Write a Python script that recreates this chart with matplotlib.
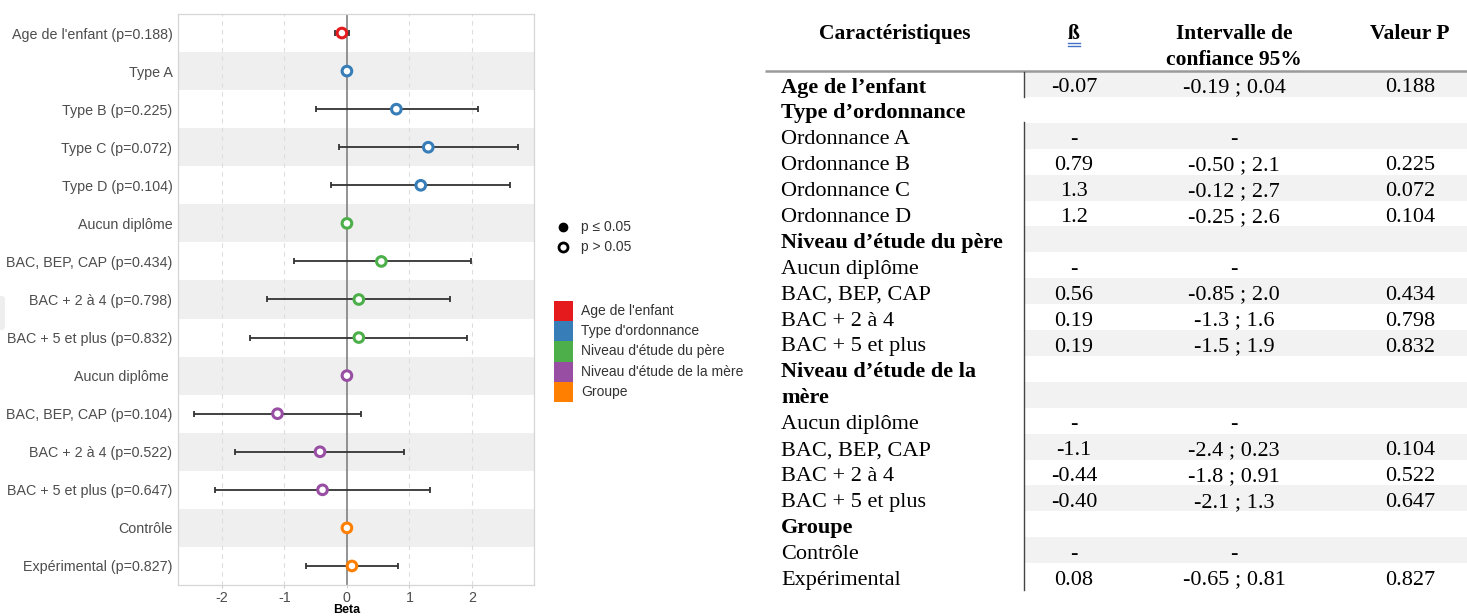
import matplotlib
matplotlib.use("Agg")
import matplotlib.pyplot as plt
import numpy as np
from matplotlib.patches import Rectangle, FancyBboxPatch

plt.rcParams['axes.unicode_minus'] = False

# ---------------- data: forest plot ----------------
row_labels = ["Age de l'enfant (p=0.188)", "Type A", "Type B (p=0.225)", "Type C (p=0.072)",
              "Type D (p=0.104)", "Aucun diplôme", "BAC, BEP, CAP (p=0.434)",
              "BAC + 2 à 4 (p=0.798)", "BAC + 5 et plus (p=0.832)", "Aucun diplôme ",
              "BAC, BEP, CAP (p=0.104)", "BAC + 2 à 4 (p=0.522)", "BAC + 5 et plus (p=0.647)",
              "Contrôle", "Expérimental (p=0.827)"]
estimate = [-0.08, 0.0, 0.79, 1.30, 1.18, 0.0, 0.55, 0.19, 0.19, 0.0, -1.11, -0.43, -0.39, 0.0, 0.08]
ci_low = [-0.19, np.nan, -0.50, -0.12, -0.25, np.nan, -0.85, -1.27, -1.55, np.nan, -2.45, -1.79, -2.11, np.nan, -0.65]
ci_high = [0.04, np.nan, 2.09, 2.73, 2.61, np.nan, 1.98, 1.64, 1.92, np.nan, 0.23, 0.91, 1.32, np.nan, 0.82]
group_idx = [0, 1, 1, 1, 1, 2, 2, 2, 2, 3, 3, 3, 3, 4, 4]
group_names = ["Age de l'enfant", "Type d'ordonnance", "Niveau d'étude du père",
               "Niveau d'étude de la mère", "Groupe"]
group_colors = ["#E41A1C", "#377EB8", "#4DAF4A", "#984EA3", "#FF7F00"]
x_ticks = [-2, -1, 0, 1, 2]
shape_legend = ["p \u2264 0.05", "p > 0.05"]

# ---------------- data: table ----------------
tab_headers = ["Caractéristiques", "ß", "Intervalle de\nconfiance 95%", "Valeur P"]
tab_labels = ["Age de l\u2019enfant", "Type d\u2019ordonnance", "Ordonnance A", "Ordonnance B",
              "Ordonnance C", "Ordonnance D", "Niveau d\u2019étude du père", "Aucun diplôme",
              "BAC, BEP, CAP", "BAC + 2 à 4", "BAC + 5 et plus", "Niveau d\u2019étude de la",
              "mère", "Aucun diplôme", "BAC, BEP, CAP", "BAC + 2 à 4", "BAC + 5 et plus",
              "Groupe", "Contrôle", "Expérimental"]
tab_bold = [1, 1, 0, 0, 0, 0, 1, 0, 0, 0, 0, 1, 1, 0, 0, 0, 0, 1, 0, 0]
tab_beta = ["-0.07", "", "-", "0.79", "1.3", "1.2", "", "-", "0.56", "0.19", "0.19", "", "",
            "-", "-1.1", "-0.44", "-0.40", "", "-", "0.08"]
tab_ci = ["-0.19 ; 0.04", "", "-", "-0.50 ; 2.1", "-0.12 ; 2.7", "-0.25 ; 2.6", "", "-",
          "-0.85 ; 2.0", "-1.3 ; 1.6", "-1.5 ; 1.9", "", "", "-", "-2.4 ; 0.23",
          "-1.8 ; 0.91", "-2.1 ; 1.3", "", "-", "-0.65 ; 0.81"]
tab_p = ["0.188", "", "", "0.225", "0.072", "0.104", "", "", "0.434", "0.798", "0.832", "", "",
         "", "0.104", "0.522", "0.647", "", "", "0.827"]

W, H = 1467, 616
fig = plt.figure(figsize=(W / 100, H / 100), dpi=100)
fig.patch.set_facecolor("white")


def px_axes(l, t, r, b, **kw):
    return fig.add_axes([l / W, 1 - b / H, (r - l) / W, (b - t) / H], **kw)


# overlay for legend + table (pixel coordinates)
ov = px_axes(0, 0, W, H, zorder=0)
ov.set_xlim(0, W)
ov.set_ylim(H, 0)
ov.axis("off")

# ---------------- forest plot ----------------
ax = px_axes(178, 14, 534, 585, zorder=2)
sans = "Liberation Sans"
n = len(row_labels)
ypos = np.arange(n)
for i in range(n):
    if i % 2 == 1:
        ax.axhspan(i - 0.5, i + 0.5, color="#EFEFEF", lw=0, zorder=0)
for v in x_ticks:
    if v != 0:
        ax.axvline(v, color="#DDDDDD", lw=0.8, ls=(0, (4, 4)), zorder=1)
ax.axvline(0, color="#808080", lw=1.2, zorder=1)

est = np.array(estimate)
lo = np.array(ci_low)
hi = np.array(ci_high)
m = ~np.isnan(lo)
ax.errorbar(est[m], ypos[m], xerr=[est[m] - lo[m], hi[m] - est[m]], fmt="none",
            ecolor="#333333", elinewidth=1.3, capsize=2.5, capthick=1.3, zorder=2)
cols = [group_colors[g] for g in group_idx]
ax.scatter(est, ypos, s=48, facecolors="white", edgecolors=cols, linewidths=2.2, zorder=3)

ax.set_xlim(-2.70, 2.99)
ax.set_ylim(n - 0.5, -0.5)
ax.set_yticks(ypos)
ax.set_yticklabels(row_labels, fontsize=10.3, color="#4D4D4D", family=sans)
ax.set_xticks(x_ticks)
ax.set_xticklabels([str(t) for t in x_ticks], fontsize=10.3, color="#4D4D4D", family=sans)
ax.tick_params(axis="y", length=0, pad=4)
ax.tick_params(axis="x", length=2.5, width=0.8, color="#CCCCCC", pad=2)
for s in ax.spines.values():
    s.set_color("#D6D6D6")
    s.set_linewidth(0.9)
ov.text(347, 613, "Beta", fontsize=9, fontweight="bold", family=sans, ha="center",
        va="baseline")

# small gray artifact at left edge
ov.add_patch(FancyBboxPatch((-6, 296), 11, 34, boxstyle="round,pad=0,rounding_size=3",
                            fc="#EEEEEE", ec="none"))

# ---------------- legends ----------------
ov.plot([563], [227], "o", ms=6, color="black", mec="black")
ov.plot([563], [247], "o", ms=6.5, mfc="white", mec="black", mew=2.0)
ov.text(581, 227, shape_legend[0], fontsize=10, family=sans, color="#333333", va="center")
ov.text(581, 247, shape_legend[1], fontsize=10, family=sans, color="#333333", va="center")
for k, (nm, c) in enumerate(zip(group_names, group_colors)):
    y0 = 301 + k * 20.2
    ov.add_patch(Rectangle((554, y0), 19, 20.2, fc=c, ec="none"))
    ov.text(581, y0 + 10.1, nm, fontsize=10, family=sans, color="#333333", va="center")

# ---------------- table ----------------
serif = "Liberation Serif"
fs = 16
col_x = [781, 1074, 1234, 1410]
row_y0 = 84
row_dy = 25.9
base_off = 8.5
# header
hfs = 15.5
ov.text(895, 39, tab_headers[0], fontsize=hfs, family=serif, fontweight="bold",
        ha="center", va="baseline")
ov.text(col_x[1], 39, tab_headers[1], fontsize=hfs, family=serif, fontweight="bold",
        ha="center", va="baseline")
ov.plot([col_x[1] - 6, col_x[1] + 6], [42.5, 42.5], color="#4472C4", lw=1.0)
ov.plot([col_x[1] - 6, col_x[1] + 6], [45.5, 45.5], color="#4472C4", lw=1.0)
ov.text(col_x[2], 39, "Intervalle de", fontsize=hfs, family=serif, fontweight="bold",
        ha="center", va="baseline")
ov.text(col_x[2], 65, "confiance 95%", fontsize=hfs, family=serif, fontweight="bold",
        ha="center", va="baseline")
ov.text(col_x[3], 39, tab_headers[3], fontsize=hfs, family=serif, fontweight="bold",
        ha="center", va="baseline")
ov.plot([765, W], [70.5, 70.5], color="#9A9A9A", lw=1.8, solid_capstyle="butt")

for i, lab in enumerate(tab_labels):
    yc = row_y0 + i * row_dy
    yb = yc + base_off
    if i % 2 == 0:
        ov.add_patch(Rectangle((1024, yc - row_dy / 2), W - 1024, row_dy, fc="#F2F2F2",
                               ec="none", zorder=0))
    ov.text(col_x[0], yb, lab, fontsize=fs, family=serif,
            fontweight="bold" if tab_bold[i] else "normal", ha="left", va="baseline")
    ov.text(col_x[1], yb, tab_beta[i], fontsize=fs, family=serif, ha="center", va="baseline")
    ov.text(col_x[2], yb, tab_ci[i], fontsize=fs, family=serif, ha="center", va="baseline")
    ov.text(col_x[3], yb, tab_p[i], fontsize=fs, family=serif, ha="center", va="baseline")

ov.plot([1024, 1024], [72, 96.5], color="#444444", lw=1.0)
ov.plot([1024, 1024], [122, 590], color="#444444", lw=1.0)

fig.savefig("out.png", dpi=100, facecolor="white")
